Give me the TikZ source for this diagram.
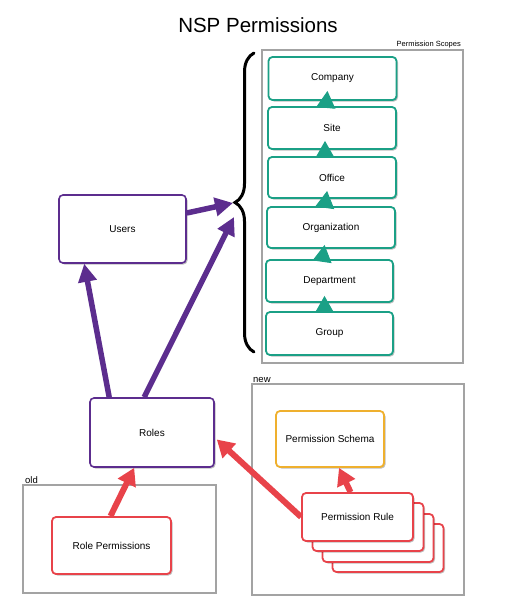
\documentclass[tikz,border=0pt]{standalone}
\usepackage{fontspec}
\setmainfont{Liberation Sans}
\usetikzlibrary{arrows.meta,calc,shadows,decorations.pathreplacing}
\definecolor{purp}{HTML}{5C2D8E}
\definecolor{tealc}{HTML}{1BA086}
\definecolor{redc}{HTML}{E8434A}
\definecolor{orangec}{HTML}{EFB02E}
\definecolor{grayc}{HTML}{A3A3A3}
\tikzset{
  box/.style={draw, rounded corners=4pt, fill=white, line width=1.8pt,
    font=\fontsize{10}{12}\selectfont, inner sep=0pt,
    drop shadow={shadow xshift=1.5pt, shadow yshift=-1.5pt, opacity=0.25, fill=black}},
  scopebox/.style={box, draw=tealc, minimum width=128pt},
  purpbox/.style={box, draw=purp, line width=1.6pt},
  redbox/.style={box, draw=redc},
  orangebox/.style={box, draw=orangec},
  groupbox/.style={draw=grayc, line width=1.6pt},
  grouplabel/.style={font=\fontsize{9.5}{11}\selectfont, inner sep=0pt},
  scopearrow/.style={draw=tealc, fill=tealc, line width=1pt, -{Triangle[length=17pt,width=19pt]}},
  purparrow/.style={draw=purp, line width=5.5pt, -{Triangle[length=18pt,width=18pt]}},
  redarrow/.style={draw=redc, line width=6pt, -{Triangle[length=17pt,width=19pt]}},
}
\begin{document}
\begin{tikzpicture}[x=1pt,y=-1pt]
\useasboundingbox (0,0) rectangle (527,602);

% title
\node[font=\fontsize{20.5}{23}\selectfont] (title) at (258,25) {NSP Permissions};

% permission scopes group
\draw[groupbox] (262,50) rectangle (463,363);
\node[font=\fontsize{7.5}{9}\selectfont, anchor=east, inner sep=0pt] (scopeslbl) at (461,45) {Permission Scopes};

\node[scopebox, minimum height=43pt] (company) at (332.5,78.5) {Company};
\node[scopebox, minimum height=42pt] (site) at (332,128) {Site};
\node[scopebox, minimum height=41pt] (office) at (332,177.5) {Office};
\node[scopebox, minimum height=41pt] (org) at (331,227.5) {Organization};
\node[scopebox, minimum height=42pt, minimum width=127pt] (dept) at (329.5,281) {Department};
\node[scopebox, minimum height=43pt, minimum width=127pt] (group) at (329.5,333.5) {Group};

\draw[scopearrow, shorten >=-10pt] ([xshift=-6pt]site.north) -- ([xshift=-6pt]company.south);
\draw[scopearrow, shorten >=-9pt] ([xshift=-7pt]office.north) -- ([xshift=-7pt]site.south);
\draw[scopearrow, shorten >=-8pt] ([xshift=-6pt]org.north) -- ([xshift=-6pt]office.south);
\draw[scopearrow, shorten >=-4pt] ([xshift=-7pt]dept.north) -- ([xshift=-7pt]org.south);
\draw[scopearrow, shorten >=-7pt] ([xshift=-5pt]group.north) -- ([xshift=-5pt]dept.south);

% brace
\draw[line width=3pt, line cap=round, decorate, decoration={brace, amplitude=19pt}]
  (254,352) -- (254,53);
\coordinate (bracetip) at (233,203);
\coordinate (bracelow) at (234,217);

% users / roles
\node[purpbox, minimum width=127pt, minimum height=68pt] (users) at (122.5,229) {Users};
\node[purpbox, minimum width=124pt, minimum height=69pt] (roles) at (152,432.5) {Roles};

\draw[purparrow] ($(users.north east)!0.27!(users.south east)$) -- (bracetip);
\draw[purparrow] ([xshift=20pt]roles.north west) -- ([xshift=26pt]users.south west);
\draw[purparrow] ([xshift=55pt]roles.north west) -- (bracelow);

% old group
\draw[groupbox] (23,485) rectangle (216,593);
\node[grouplabel, anchor=south west] (oldlbl) at (25,484) {old};
\node[redbox, minimum width=119pt, minimum height=57pt] (roleperm) at (111.5,545.5) {Role Permissions};

% new group
\draw[groupbox] (252,384) rectangle (464,595);
\node[grouplabel, anchor=south west] (newlbl) at (253,383) {new};
\node[orangebox, minimum width=108pt, minimum height=56pt] (schema) at (330,439) {Permission Schema};

\node[redbox, minimum width=111pt, minimum height=48pt] (rule4) at (388,548) {};
\node[redbox, minimum width=111pt, minimum height=48pt] (rule3) at (378,538) {};
\node[redbox, minimum width=111pt, minimum height=48pt] (rule2) at (368,527) {};
\node[redbox, minimum width=111pt, minimum height=48pt] (rule) at (357.5,517) {Permission Rule};

\draw[redarrow] ([xshift=-1pt]roleperm.north) -- ([xshift=45pt]roles.south west);
\draw[redarrow] (rule.west) -- ($(roles.east)+(2,7)$);
\draw[redarrow] ([xshift=-7pt]rule.north) -- ([xshift=9pt]schema.south);
\end{tikzpicture}
\end{document}
